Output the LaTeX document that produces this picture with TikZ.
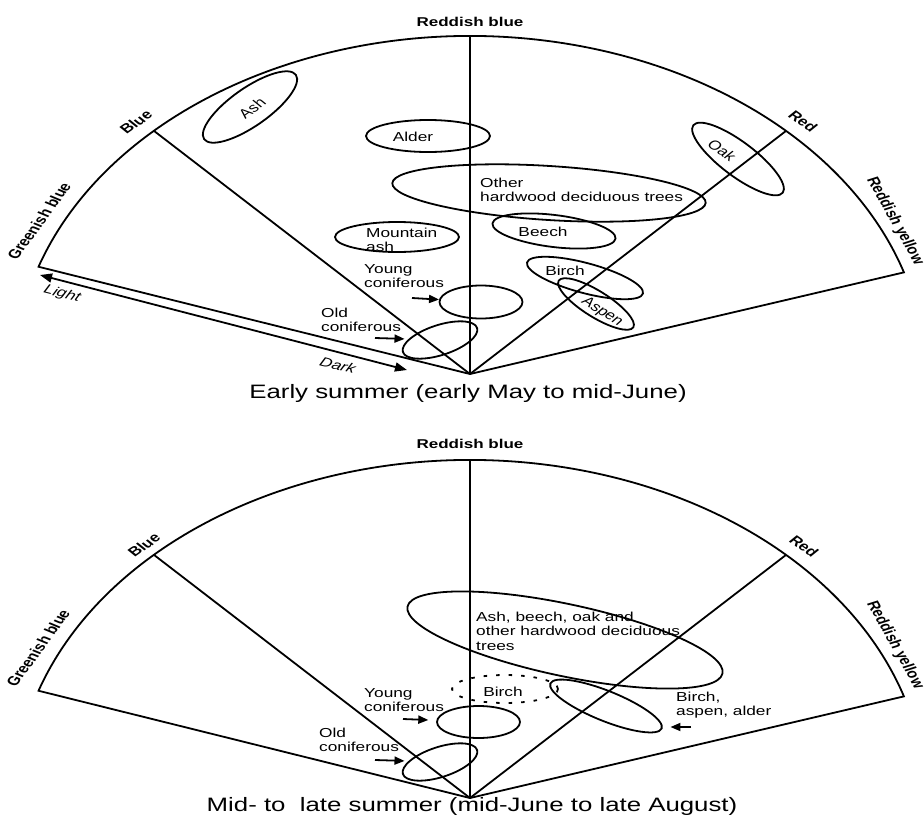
\documentclass[tikz,border=0pt]{standalone}
\usepackage{fontspec}
\setmainfont{Liberation Sans}
\usetikzlibrary{shapes.geometric,arrows.meta}

\tikzset{
  asse/.style={font=\fontsize{12.8}{14}\selectfont\bfseries, inner sep=0pt, xscale=1.33},
  etich/.style={font=\fontsize{13}{14.5}\selectfont, inner sep=0pt, align=left, xscale=1.33},
  corsivo/.style={etich, font=\fontsize{13}{14.5}\selectfont\itshape},
  titolo/.style={font=\fontsize{19.4}{22}\selectfont, inner sep=0pt, xscale=1.33},
  albero/.style={draw, ellipse, inner sep=0pt},
  tratteg/.style={albero, dash pattern=on 3.5pt off 9pt},
  freccia/.style={-{Triangle[length=10pt,width=8pt]}},
}

\begin{document}
\begin{tikzpicture}[x=1pt, y=1pt, line width=1.8pt]
	\useasboundingbox (0,0) rectangle (924,-825);
	% ventaglio in alto
	\coordinate (o1) at (470,-374);
	\path (o1) ++(161.5:455 and 338) coordinate (gb1)
	      (o1) ++(134:455 and 338) coordinate (b1)
	      (o1) ++(90:455 and 338) coordinate (rb1)
	      (o1) ++(46:455 and 338) coordinate (r1)
	      (o1) ++(17.5:455 and 338) coordinate (ry1);
	\draw (o1) -- (gb1) arc[start angle=161.5, end angle=17.5, x radius=455, y radius=338] -- cycle;
	\draw (o1) -- (b1) (o1) -- (rb1) (o1) -- (r1);
	\node[asse] (lrb1) at (470,-22) {Reddish blue};
	\node[asse, rotate=43] (lb1) at (136,-122) {Blue};
	\node[asse, rotate=-43] (lr1) at (803,-121) {Red};
	\node[asse, rotate=61] (lgb1) at (39,-221) {Greenish blue};
	\node[asse, rotate=-67] (lry1) at (895,-221) {Reddish yellow};
	% chiaro - scuro
	\coordinate (lgt1) at (40,-275);
	\coordinate (drk1) at (407,-370);
	\draw[{Triangle[length=12pt,width=9pt]}-{Triangle[length=12pt,width=9pt]}] (lgt1) -- (drk1);
	\node[corsivo, rotate=-18.5] (light1) at (62,-294) {Light};
	\node[corsivo, rotate=-18.5] (dark1) at (338,-365) {Dark};
	% ellissi
	\node[albero, minimum width=112pt, minimum height=38pt, rotate=35] (ash1) at (250,-107) {};
	\node[albero, minimum width=124pt, minimum height=32pt] (alder1) at (428,-136) {};
	\node[albero, minimum width=314pt, minimum height=54pt, rotate=-3.6] (hard1) at (549,-193) {};
	\node[albero, minimum width=124pt, minimum height=30pt] (mash1) at (397,-237) {};
	\node[albero, minimum width=124pt, minimum height=32pt, rotate=-7] (beech1) at (554,-231) {};
	\node[albero, minimum width=120pt, minimum height=30pt, rotate=-15] (birch1) at (585,-278) {};
	\node[albero, minimum width=88pt, minimum height=26pt, rotate=-32] (aspen1) at (596,-304) {};
	\node[albero, minimum width=112pt, minimum height=34pt, rotate=-37] (oak1) at (738,-159) {};
	\node[albero, minimum width=83pt, minimum height=33pt] (yc1) at (481,-302) {};
	\node[albero, minimum width=78pt, minimum height=30pt, rotate=18] (oc1) at (440,-340) {};
	% nomi
	\node[etich, rotate=43] (tash1) at (252,-108) {Ash};
	\node[etich] (talder1) at (413,-137) {Alder};
	\node[etich, anchor=west] (thard1) at (479,-190) {Other\\hardwood deciduous trees};
	\node[etich, anchor=west] (tmash1) at (365,-240) {Mountain\\ash};
	\node[etich] (tbeech1) at (543,-232) {Beech};
	\node[etich] (tbirch1) at (565,-271) {Birch};
	\node[etich, rotate=-40] (taspen1) at (602,-312) {Aspen};
	\node[etich, rotate=-43] (toak1) at (722,-150) {Oak};
	\node[etich, anchor=west] (tyc1) at (363,-276) {Young\\coniferous};
	\node[etich, anchor=west] (toc1) at (320,-320) {Old\\coniferous};
	% frecce
	\coordinate (ayc1) at (412,-298);
	\coordinate (aoc1) at (375,-338);
	\draw[freccia] (ayc1) -- (yc1);
	\draw[freccia, shorten >=4pt] (aoc1) -- (oc1);
	\node[titolo, anchor=base] (tit1) at (468,-398) {Early summer (early May to mid-June)};

	% ventaglio in basso
	\coordinate (o2) at (470,-798);
	\path (o2) ++(161.5:455 and 338) coordinate (gb2)
	      (o2) ++(134:455 and 338) coordinate (b2)
	      (o2) ++(90:455 and 338) coordinate (rb2)
	      (o2) ++(46:455 and 338) coordinate (r2)
	      (o2) ++(17.5:455 and 338) coordinate (ry2);
	\draw (o2) -- (gb2) arc[start angle=161.5, end angle=17.5, x radius=455, y radius=338] -- cycle;
	\draw (o2) -- (b2) (o2) -- (rb2) (o2) -- (r2);
	\node[asse] (lrb2) at (470,-444) {Reddish blue};
	\node[asse, rotate=43] (lb2) at (144,-545) {Blue};
	\node[asse, rotate=-43] (lr2) at (804,-546) {Red};
	\node[asse, rotate=61] (lgb2) at (38,-648) {Greenish blue};
	\node[asse, rotate=-67] (lry2) at (895,-645) {Reddish yellow};
	% ellissi
	\node[albero, minimum width=322pt, minimum height=72pt, rotate=-12] (big2) at (565,-640) {};
	\node[tratteg, minimum width=106pt, minimum height=28pt] (birchd2) at (505,-689) {};
	\node[albero, minimum width=120pt, minimum height=30pt, rotate=-22] (bad2) at (606,-706) {};
	\node[albero, minimum width=83pt, minimum height=32pt] (yc2) at (478.5,-722) {};
	\node[albero, minimum width=78pt, minimum height=30pt, rotate=18] (oc2) at (440,-762) {};
	% nomi
	\node[etich, anchor=west] (tbig2) at (475,-631) {Ash, beech, oak and\\other hardwood deciduous\\trees};
	\node[etich] (tbirchd2) at (503,-692) {Birch};
	\node[etich, anchor=west] (tbad2) at (675,-705) {Birch,\\aspen, alder};
	\node[etich, anchor=west] (tyc2) at (363,-700) {Young\\coniferous};
	\node[etich, anchor=west] (toc2) at (318,-740) {Old\\coniferous};
	% frecce
	\coordinate (ayc2) at (403,-719);
	\coordinate (aoc2) at (375,-760);
	\coordinate (abad2) at (691,-727);
	\draw[freccia, shorten >=8pt] (ayc2) -- (yc2);
	\draw[freccia, shorten >=4pt] (aoc2) -- (oc2);
	\draw[freccia, shorten >=8pt] (abad2) -- (abad2 -| bad2.east);
	\node[titolo, anchor=base] (tit2) at (472,-811) {Mid- to\ \ late summer (mid-June to late August)};
\end{tikzpicture}
\end{document}
